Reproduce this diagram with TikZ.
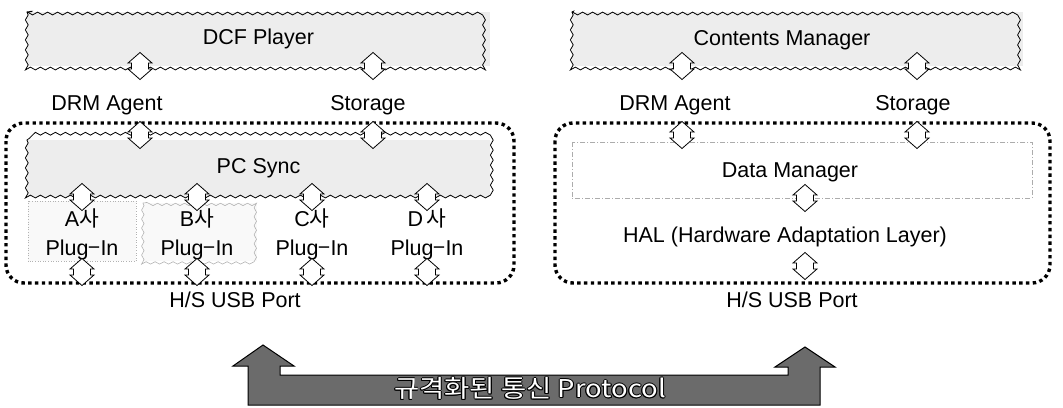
\documentclass[tikz,border=0pt]{standalone}
\usepackage{fontspec}
\setmainfont{Liberation Sans}
\newfontfamily\kr{Noto Sans CJK KR}
\usetikzlibrary{decorations.pathmorphing}
\newcommand{\prototext}{\scalebox{1.12}[1]{규격화된 통신 Protocol}}
\begin{document}
\begin{tikzpicture}[x=1pt,y=-1pt,
  lbl/.style={font=\fontsize{21.5}{25}\selectfont, inner sep=0pt},
  box/.style={fill=gray!14, inner sep=0pt, font=\fontsize{21.5}{25}\selectfont},
  wavy/.style={decorate, decoration={snake, segment length=10pt, amplitude=1.4pt}, line width=0.8pt},
  faintwavy/.style={decorate, decoration={snake, segment length=9pt, amplitude=1.2pt}, line width=0.6pt, draw=gray!60},
  dotbox/.style={line width=3.4pt, dash pattern=on 3.4pt off 3.4pt, rounded corners=18pt},
  prototxt/.style={font=\kr\fontsize{24.5}{28}\selectfont, inner sep=0pt},
  iface/.pic={\draw[fill=white, line width=0.8pt] (0,-13.5) -- (12,-3) -- (8.5,-3) -- (8.5,3) -- (12,3) -- (0,13.5) -- (-12,3) -- (-8.5,3) -- (-8.5,-3) -- (-12,-3) -- cycle;}
]
\useasboundingbox (0,0) rectangle (1063,407);

% ---------------- left panel ----------------
\node[box, minimum width=463pt, minimum height=54pt] (dcf) at (258.5,39) {DCF Player};
\draw[wavy] (dcf.north west) rectangle (dcf.south east);

\node[lbl] (ldrm) at (107,105) {DRM Agent};
\node[lbl] (lsto) at (368,105) {Storage};

\draw[dotbox] (6,123) rectangle (514,283);

\node[box, minimum width=463pt, minimum height=57pt] (pcs) at (258.5,168.5) {PC Sync};
\draw[wavy] (pcs.north west) rectangle (pcs.south east);

% plug-in boxes
\node[fill=gray!5, minimum width=108pt, minimum height=60pt, inner sep=0pt] (pa) at (82,231) {};
\draw[gray!60, dotted, line width=0.6pt] (pa.north west) rectangle (pa.south east);
\node[fill=gray!5, minimum width=114pt, minimum height=58pt, inner sep=0pt] (pb) at (200,232) {};
\draw[faintwavy] (pb.north west) rectangle (pb.south east);

\node[lbl] (ta) at (82,218) {A{\kr 사}};
\node[lbl] (tb) at (197,218) {B{\kr 사}};
\node[lbl] (tc) at (312,218) {C{\kr 사}};
\node[lbl] (td) at (427,218) {D\,{\kr 사}};
\node[lbl] (pla) at (82,250) {Plug{\kr −}In};
\node[lbl] (plb) at (197,250) {Plug{\kr −}In};
\node[lbl] (plc) at (312,250) {Plug{\kr −}In};
\node[lbl] (pld) at (427,250) {Plug{\kr −}In};

\node[lbl] (lusb) at (235,300) {H/S USB Port};

\coordinate (i1) at (140,66);  \coordinate (i2) at (373,66);
\coordinate (i3) at (140,135); \coordinate (i4) at (373,135);
\coordinate (i5) at (82,197);  \coordinate (i6) at (197,197);
\coordinate (i7) at (312,197); \coordinate (i8) at (427,197);
\coordinate (i9) at (82,272);  \coordinate (i10) at (197,272);
\coordinate (i11) at (312,272); \coordinate (i12) at (427,272);
\foreach \c in {i1,i2,i3,i4,i5,i6,i7,i8,i9,i10,i11,i12} \pic at (\c) {iface};

% ---------------- right panel ----------------
\node[box, minimum width=451pt, minimum height=54pt] (cm) at (797.5,39) {};
\draw[wavy] (cm.north west) rectangle (cm.south east);
\node[lbl] (cmt) at (782,40) {Contents Manager};

\node[lbl] (rdrm) at (675,105) {DRM Agent};
\node[lbl] (rsto) at (913,105) {Storage};

\draw[dotbox] (555,123) rectangle (1050,283);

\node[minimum width=460pt, minimum height=56pt, inner sep=0pt] (dm) at (802,170) {};
\draw[gray!65, dash pattern=on 5pt off 2pt on 1pt off 2pt, line width=0.6pt] (dm.north west) rectangle (dm.south east);
\node[lbl] (dmt) at (790,172) {Data Manager};

\node[lbl] (hal) at (785,237) {HAL (Hardware Adaptation Layer)};
\node[lbl] (rusb) at (792,300) {H/S USB Port};

\coordinate (j1) at (682,66);  \coordinate (j2) at (917,66);
\coordinate (j3) at (682,135); \coordinate (j4) at (917,135);
\coordinate (j5) at (805,198); \coordinate (j6) at (805,266);
\foreach \c in {j1,j2,j3,j4,j5,j6} \pic at (\c) {iface};

% ---------------- bottom protocol arrow ----------------
\draw[fill=black!58, line width=1pt, line join=miter]
  (248,405) -- (248,366) -- (233,366) -- (263,345) -- (294,366) -- (280,366) -- (280,375)
  -- (788,375) -- (788,367) -- (775,367) -- (805,347) -- (835,367) -- (820,367) -- (820,405) -- cycle;
\foreach \dx/\dy in {-0.9/0,0.9/0,0/-0.9,0/0.9,-0.65/-0.65,0.65/0.65,-0.65/0.65,0.65/-0.65}
  \node[prototxt, text=black] at (530+\dx,388.5+\dy) {\prototext};
\node[prototxt, text=white] (proto) at (530,388.5) {\prototext};
\end{tikzpicture}
\end{document}
